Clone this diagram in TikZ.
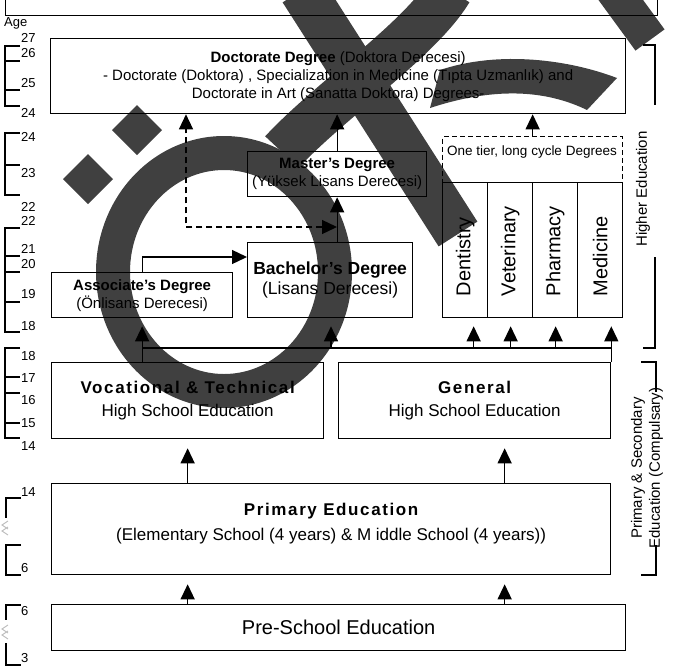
\documentclass[tikz,border=0pt]{standalone}
\usepackage{fontspec}
\setmainfont{Liberation Sans}
\newfontfamily\spacedfont[LetterSpace=9.5]{Liberation Sans}
\usetikzlibrary{arrows.meta}

\tikzset{
  box/.style={draw, line width=1.3pt, anchor=north west, inner sep=0pt, align=center},
  dbox/.style={box, dash pattern=on 5pt off 3pt},
  line/.style={line width=1.3pt},
  arr/.style={line, -{Triangle[length=15pt,width=14pt]}},
  agelbl/.style={anchor=west, inner sep=0pt, font=\fontsize{13}{13}\selectfont},
  coltxt/.style={anchor=west, rotate=90, inner sep=0pt, font=\fontsize{20}{20}\selectfont}
}

\begin{document}
\begin{tikzpicture}[x=1pt, y=-1pt]
    \useasboundingbox (0,0) rectangle (677,667);

    % box cut by the top edge
    \node[box, minimum width=652, minimum height=30] (prev) at (5,-15) {};

    % Age scale
    \node[agelbl] (agehead) at (4,23) {Age};
    \draw[line] (20,46) -| (5,106) -- (20,106) (5,61) -- (20,61) (5,90) -- (20,90);
    \draw[line] (20,133) -| (5,195) -- (20,195) (5,165) -- (20,165);
    \draw[line] (20,228) -| (5,332) -- (20,332) (5,256) -- (20,256) (5,272) -- (20,272) (5,302) -- (20,302);
    \draw[line] (20,348) -| (5,438) -- (20,438) (5,377) -- (20,377) (5,393) -- (20,393) (5,423) -- (20,423);
    \draw[line] (21,498) -| (6,518) (21,545) -| (6,575) -- (21,575);
    \draw[line] (21,605) -| (6,620) (6,643) |- (21,665);
    \draw[gray!55, line width=0.9pt] (8,521) -- (2,525) -- (8,529) (8,527) -- (2,531) -- (8,535); % break marks
    \draw[gray!55, line width=0.9pt] (8,625) -- (2,629) -- (8,633) (8,631) -- (2,635) -- (8,639);
    \foreach \a/\y [count=\i] in {27/38, 26/53, 25/83, 24/113, 24/137, 23/173, 22/207, 22/221, 21/249, 20/264,
                                  19/294, 18/326, 18/356, 17/378, 16/400, 15/423, 14/446, 14/492, 6/568, 6/611, 3/658}
        \node[agelbl] (age\i) at (21,\y) {\a};

    % Higher education
    \node[box, minimum width=575, minimum height=75, font=\fontsize{15}{18}\selectfont] (doct) at (50,38)
        {\textbf{Doctorate Degree} (Doktora Derecesi)\\- Doctorate (Doktora) , Specialization in Medicine (Tıpta Uzmanlık) and\\Doctorate in Art (Sanatta Doktora) Degrees-};
    \node[box, minimum width=179, minimum height=45, font=\fontsize{15}{18}\selectfont] (mast) at (247,151)
        {\textbf{Master's Degree}\\(Yüksek Lisans Derecesi)};
    \node[box, minimum width=165, minimum height=75, font=\fontsize{17.5}{20}\selectfont] (bach) at (247,242)
        {\textbf{Bachelor's Degree}\\(Lisans Derecesi)};
    \node[box, minimum width=181, minimum height=45, font=\fontsize{15}{18}\selectfont] (asso) at (51,272)
        {\textbf{Associate's Degree}\\(Önlisans Derecesi)};
    \node[dbox, minimum width=180, minimum height=46] (tier) at (442,136) {};
    \node[font=\fontsize{13.5}{14}\selectfont] (tiertxt) at (532,152) {One tier, long cycle Degrees};
    \foreach \n/\t [count=\i from 0] in {dent/Dentistry, vet/Veterinary, pharm/Pharmacy, med/Medicine} {
        \node[box, minimum width=45, minimum height=135] (\n) at (442+45*\i,182) {};
        \node[coltxt] (\n txt) at ([yshift=22pt]\n.south) {\t};
    }

    % Secondary, primary, pre-school
    \node[box, minimum width=272, minimum height=76, font=\fontsize{17}{23}\selectfont] (voc) at (51,362)
        {{\spacedfont\bfseries Vocational \& Technical}\\High School Education};
    \node[box, minimum width=272, minimum height=76, font=\fontsize{17}{23}\selectfont] (gen) at (338,362)
        {{\spacedfont\bfseries General}\\High School Education};
    \node[box, minimum width=559, minimum height=91, text depth=14pt, font=\fontsize{17}{25}\selectfont] (prim) at (51,483)
        {{\spacedfont\bfseries Primary Education}\\(Elementary School (4 years) \& M iddle School (4 years))};
    \node[box, minimum width=574, minimum height=46, font=\fontsize{20}{20}\selectfont] (pre) at (51,604)
        {Pre-School Education};

    % connectors
    \draw[arr] (mast.north) -- (mast.north |- doct.south);
    \draw[arr] (tier.north) -- (tier.north |- doct.south);
    \draw[arr] (bach.north -| mast.south) -- (mast.south);
    \coordinate (djoin) at (337,227);
    \coordinate (dtip) at (doct.south -| 186,0);
    \draw[line, dash pattern=on 6pt off 4pt, {Triangle[length=15pt,width=14pt]}-{Triangle[length=15pt,width=14pt]}] (djoin) -| (dtip);
    \coordinate (bin) at (bach.west |- 0,257);
    \draw[arr] (asso.north) |- (bin);
    \coordinate (railL) at (asso.south |- 0,348);
    \coordinate (railR) at (gen.north east |- railL);
    \draw[line] (railL) -- (railR);
    \draw[arr, shorten >=8pt] (asso.south |- voc.north) -- (asso.south);
    \draw[arr, shorten >=8pt] (railL -| 331,0) -- (bach.south -| 331,0);
    \foreach \n/\dx in {dent/8.5, vet/0.5, pharm/0.5}
        \draw[arr, shorten >=8pt] ([xshift=\dx pt]railL -| \n.south) -- ([xshift=\dx pt]\n.south);
    \draw[arr, shorten >=8pt] (gen.north east) -- (gen.north east |- med.south);
    \draw[arr, shorten >=9pt] (prim.north -| voc.south) -- (voc.south);
    \draw[arr, shorten >=9pt] ([xshift=30pt]prim.north -| gen.south) -- ([xshift=30pt]gen.south);
    \draw[arr, shorten >=9pt] (pre.north -| voc.south) -- (prim.south -| voc.south);
    \draw[arr, shorten >=9pt] ([xshift=30pt]pre.north -| gen.south) -- ([xshift=30pt]prim.south -| gen.south);

    % side brackets
    \node[rotate=90, font=\fontsize{15}{15}\selectfont] (hedu) at (643,189) {Higher Education};
    \draw[line] (643,45) -- (655,45) -- (655,105) (655,257) -- (655,348) -- (643,348);
    \node[rotate=90, align=center, font=\fontsize{15}{18}\selectfont] (pse) at (647,468) {Primary \& Secondary\\Education (Compulsary)};
    \draw[line] (641,362) -- (656,362) -- (656,392) (656,545) -- (656,575) -- (641,575);

    % overlay mark
    \begin{scope}[transparency group, opacity=0.75]
        \fill (137,105) -- (162,130) -- (137,155) -- (112,130) -- cycle;
        \fill (88,154) -- (113,179) -- (88,204) -- (63,179) -- cycle;
        \fill[even odd rule] (224,272) ellipse [x radius=128, y radius=136] (224,272) ellipse [x radius=94, y radius=102];
        \draw[line width=46pt] (302,-10) -- (458,234);
        \draw[line width=46pt] (282,152) .. controls (330,100) and (420,40) .. (450,-10);
        \fill (440,70) .. controls (500,50) and (570,60) .. (617,78) -- (587,110) .. controls (550,92) and (500,85) .. (430,108) -- cycle;
        \draw[line width=36pt] (612,-12) -- (650,40);
    \end{scope}
\end{tikzpicture}
\end{document}
